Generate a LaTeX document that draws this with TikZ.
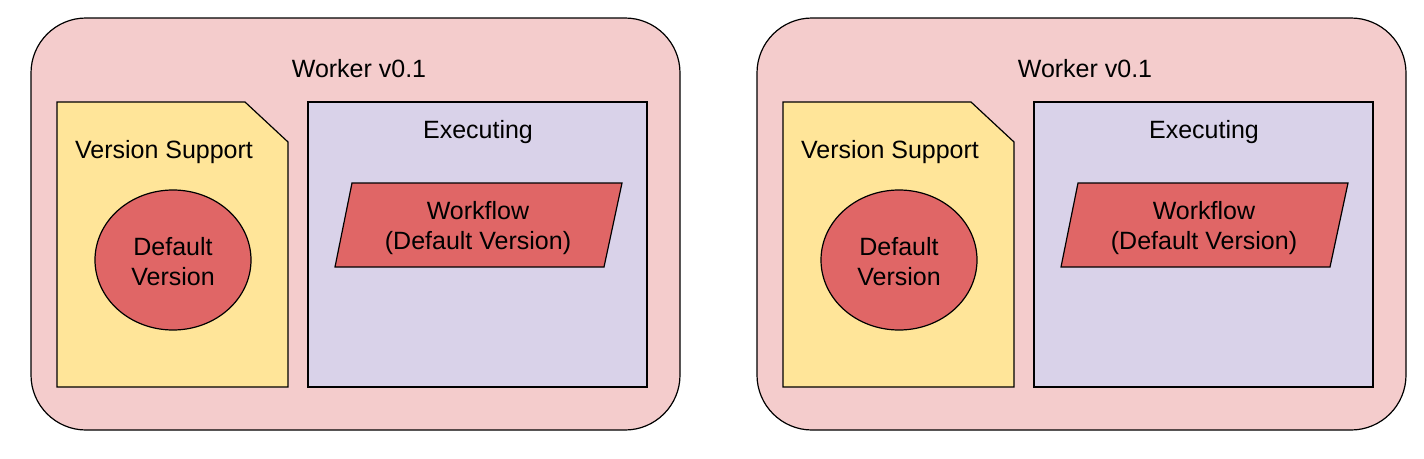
\documentclass[tikz,border=0pt]{standalone}
\usepackage{fontspec}
\setmainfont{Liberation Sans}
\usetikzlibrary{shapes.geometric}
\definecolor{outerc}{HTML}{F4CCCC}
\definecolor{docc}{HTML}{FFE599}
\definecolor{execc}{HTML}{D9D2E9}
\definecolor{redc}{HTML}{E06666}
\begin{document}
\begin{tikzpicture}[x=1pt,y=-1pt,
  edge/.style={draw=black,line width=1.2pt},
  lbl/.style={font=\fontsize{25}{30}\selectfont,align=center,inner sep=0pt}]
\useasboundingbox (0,0) rectangle (1424,458);
\foreach \o/\n in {0/a,726/b}{
  \begin{scope}[xshift=\o]
  \node[edge,fill=outerc,rounded corners=55pt,minimum width=649pt,minimum height=412pt,inner sep=0pt] (outer\n) at (355.5,224) {};
  \node[lbl] (title\n) at (359,69) {Worker v0.1};
  \path[edge,fill=docc] (57,102) -- (245,102) -- (288,142) -- (288,387) -- (57,387) -- cycle;
  \node[lbl] (vs\n) at (164,152) {Version Support};
  \node[edge,fill=redc,ellipse,minimum width=156pt,minimum height=140pt,inner sep=0pt] (dv\n) at (173,260) {};
  \node[lbl] at ([yshift=-2pt]dv\n) {Default\\Version};
  \node[edge,fill=execc,minimum width=339pt,minimum height=285pt,inner sep=0pt] (ex\n) at (477.5,244.5) {};
  \node[lbl] (exl\n) at (478,132) {Executing};
  \path[edge,fill=redc] (352,183) -- (622,183) -- (604,267) -- (335,267) -- cycle;
  \node[lbl] (wf\n) at (478,228) {Workflow\\(Default Version)};
  \end{scope}
}
\end{tikzpicture}
\end{document}
